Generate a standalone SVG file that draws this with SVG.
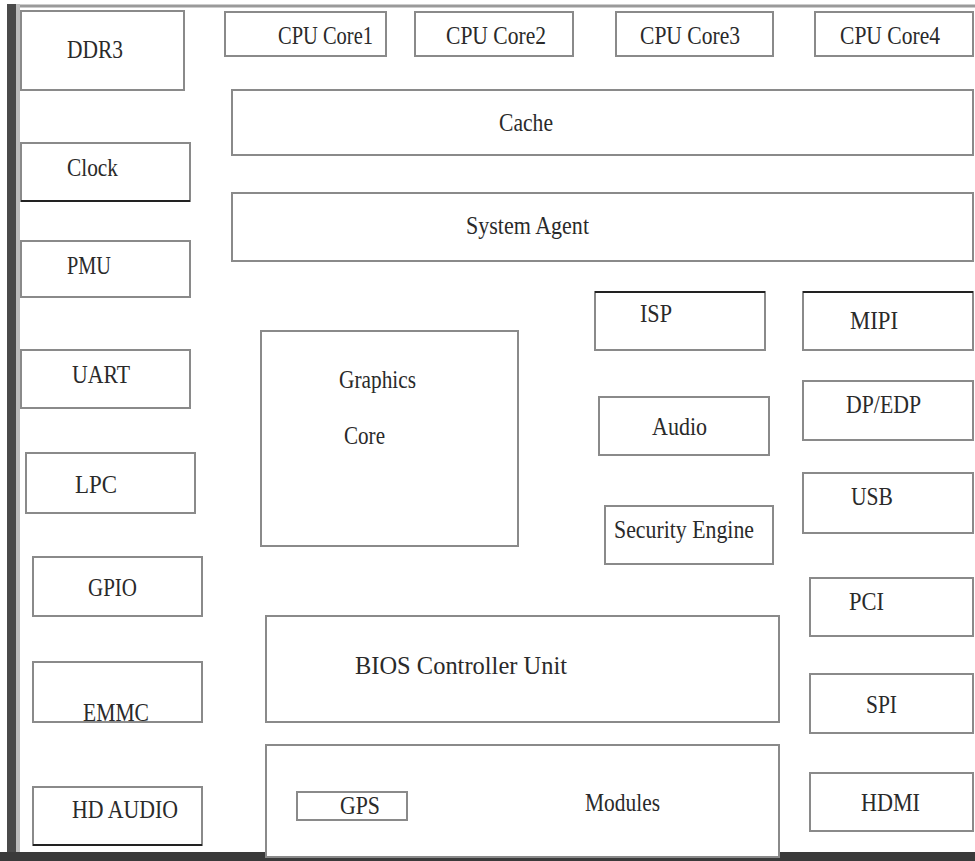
<svg xmlns="http://www.w3.org/2000/svg" width="975" height="861" viewBox="0 0 975 861">
<style>
.b{fill:#fff;stroke:#8a8a8a;stroke-width:2}
.d{stroke:#222;stroke-width:2}
.t{font-family:"Liberation Serif","Times New Roman","DejaVu Serif",serif;font-size:26px;fill:#2a2a2a}
</style>
<rect width="975" height="861" fill="#fff"/>
<g id="frame">
<line x1="9" y1="6" x2="975" y2="6" stroke="#9a9a9a" stroke-width="3"/>
<rect x="7" y="4" width="9" height="857" fill="#4a4a4a"/>
<rect x="16" y="4" width="4" height="857" fill="#bdbdbd"/>
<rect x="0" y="852" width="975" height="9" fill="#3a3a3a"/>
</g>
<g id="connectors"></g>
<g class="t" font-family="Liberation Serif, Times New Roman, DejaVu Serif, serif">
<g id="ddr3"><rect class="b" x="21" y="11" width="163" height="79"/><text x="67" y="58" textLength="56" lengthAdjust="spacingAndGlyphs">DDR3</text></g>
<g id="clock"><rect class="b" x="21" y="143" width="169" height="58"/><line class="d" x1="21" y1="201" x2="190" y2="201"/><text x="67" y="176" textLength="51" lengthAdjust="spacingAndGlyphs">Clock</text></g>
<g id="pmu"><rect class="b" x="21" y="241" width="169" height="56"/><text x="67" y="274" textLength="44" lengthAdjust="spacingAndGlyphs">PMU</text></g>
<g id="uart"><rect class="b" x="21" y="350" width="169" height="58"/><text x="72" y="383" textLength="58" lengthAdjust="spacingAndGlyphs">UART</text></g>
<g id="lpc"><rect class="b" x="26" y="453" width="169" height="60"/><text x="75" y="493" textLength="42" lengthAdjust="spacingAndGlyphs">LPC</text></g>
<g id="gpio"><rect class="b" x="33" y="557" width="169" height="59"/><text x="88" y="596" textLength="49" lengthAdjust="spacingAndGlyphs">GPIO</text></g>
<g id="emmc"><rect class="b" x="33" y="662" width="169" height="60"/><text x="83" y="721" textLength="66" lengthAdjust="spacingAndGlyphs">EMMC</text></g>
<g id="hdaudio"><rect class="b" x="33" y="787" width="169" height="58"/><line class="d" x1="33" y1="845" x2="202" y2="845"/><text x="72" y="818" textLength="106" lengthAdjust="spacingAndGlyphs">HD AUDIO</text></g>
<g id="core1"><rect class="b" x="225" y="12" width="161" height="44"/><text x="278" y="44" textLength="95" lengthAdjust="spacingAndGlyphs">CPU Core1</text></g>
<g id="core2"><rect class="b" x="415" y="12" width="158" height="44"/><text x="446" y="44" textLength="100" lengthAdjust="spacingAndGlyphs">CPU Core2</text></g>
<g id="core3"><rect class="b" x="616" y="12" width="157" height="44"/><text x="640" y="44" textLength="100" lengthAdjust="spacingAndGlyphs">CPU Core3</text></g>
<g id="core4"><rect class="b" x="815" y="12" width="158" height="44"/><text x="840" y="44" textLength="100" lengthAdjust="spacingAndGlyphs">CPU Core4</text></g>
<g id="cache"><rect class="b" x="232" y="90" width="741" height="65"/><text x="499" y="131" textLength="54" lengthAdjust="spacingAndGlyphs">Cache</text></g>
<g id="sysagent"><rect class="b" x="232" y="193" width="741" height="68"/><text x="466" y="234" textLength="123" lengthAdjust="spacingAndGlyphs">System Agent</text></g>
<g id="graphics"><rect class="b" x="261" y="331" width="257" height="215"/><text x="339" y="388" textLength="77" lengthAdjust="spacingAndGlyphs">Graphics</text><text x="344" y="444" textLength="41" lengthAdjust="spacingAndGlyphs">Core</text></g>
<g id="isp"><rect class="b" x="595" y="292" width="170" height="58"/><line class="d" x1="595" y1="292" x2="765" y2="292"/><text x="640" y="322" textLength="32" lengthAdjust="spacingAndGlyphs">ISP</text></g>
<g id="audio"><rect class="b" x="599" y="397" width="170" height="58"/><text x="652" y="435" textLength="55" lengthAdjust="spacingAndGlyphs">Audio</text></g>
<g id="security"><rect class="b" x="605" y="506" width="168" height="58"/><text x="614" y="538" textLength="140" lengthAdjust="spacingAndGlyphs">Security Engine</text></g>
<g id="mipi"><rect class="b" x="803" y="292" width="170" height="58"/><line class="d" x1="803" y1="292" x2="973" y2="292"/><text x="850" y="329" textLength="48" lengthAdjust="spacingAndGlyphs">MIPI</text></g>
<g id="dpedp"><rect class="b" x="803" y="381" width="170" height="59"/><text x="846" y="413" textLength="75" lengthAdjust="spacingAndGlyphs">DP/EDP</text></g>
<g id="usb"><rect class="b" x="803" y="473" width="170" height="60"/><text x="851" y="505" textLength="42" lengthAdjust="spacingAndGlyphs">USB</text></g>
<g id="pci"><rect class="b" x="810" y="578" width="163" height="58"/><text x="849" y="610" textLength="35" lengthAdjust="spacingAndGlyphs">PCI</text></g>
<g id="spi"><rect class="b" x="810" y="674" width="163" height="59"/><text x="866" y="713" textLength="31" lengthAdjust="spacingAndGlyphs">SPI</text></g>
<g id="hdmi"><rect class="b" x="810" y="773" width="163" height="58"/><text x="861" y="811" textLength="59" lengthAdjust="spacingAndGlyphs">HDMI</text></g>
<g id="bios"><rect class="b" x="266" y="616" width="513" height="106"/><text x="355" y="674" textLength="212" lengthAdjust="spacingAndGlyphs">BIOS Controller Unit</text></g>
<g id="modules"><rect class="b" x="266" y="745" width="513" height="112"/><text x="585" y="811" textLength="75" lengthAdjust="spacingAndGlyphs">Modules</text></g>
<g id="gps"><rect class="b" x="297" y="792" width="110" height="28"/><text x="340" y="814" textLength="40" lengthAdjust="spacingAndGlyphs">GPS</text></g>
</g>
</svg>
